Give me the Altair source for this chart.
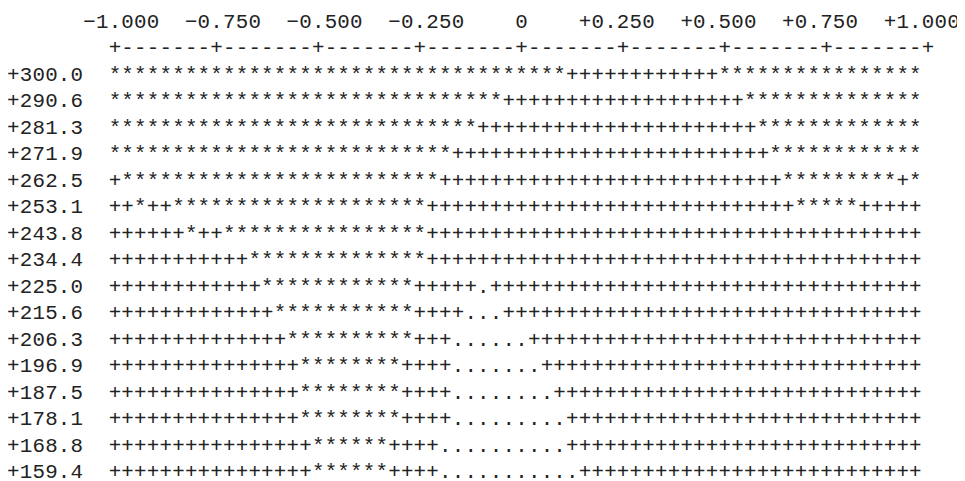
import altair as alt
import pandas as pd

# ---- data -------------------------------------------------------------
x_labels = ["−1.000", "−0.750", "−0.500", "−0.250", "0",
            "+0.250", "+0.500", "+0.750", "+1.000"]

y_labels = ["+300.0", "+290.6", "+281.3", "+271.9", "+262.5", "+253.1",
            "+243.8", "+234.4", "+225.0", "+215.6", "+206.3", "+196.9",
            "+187.5", "+178.1", "+168.8", "+159.4"]

# each row: runs of (symbol, count) across the 64 x-cells, left to right
cell_runs = [
    [("*", 36), ("+", 12), ("*", 16)],                                   # 300.0
    [("*", 31), ("+", 19), ("*", 14)],                                   # 290.6
    [("*", 29), ("+", 22), ("*", 13)],                                   # 281.3
    [("*", 27), ("+", 25), ("*", 12)],                                   # 271.9
    [("+", 1), ("*", 25), ("+", 27), ("*", 9), ("+", 1), ("*", 1)],      # 262.5
    [("+", 2), ("*", 1), ("+", 2), ("*", 20), ("+", 29), ("*", 5), ("+", 5)],  # 253.1
    [("+", 6), ("*", 1), ("+", 2), ("*", 16), ("+", 39)],                # 243.8
    [("+", 11), ("*", 14), ("+", 39)],                                   # 234.4
    [("+", 12), ("*", 12), ("+", 5), (".", 1), ("+", 34)],               # 225.0
    [("+", 13), ("*", 11), ("+", 4), (".", 3), ("+", 33)],               # 215.6
    [("+", 14), ("*", 10), ("+", 3), (".", 6), ("+", 31)],               # 206.3
    [("+", 15), ("*", 8), ("+", 4), (".", 7), ("+", 30)],                # 196.9
    [("+", 15), ("*", 8), ("+", 4), (".", 8), ("+", 29)],                # 187.5
    [("+", 15), ("*", 8), ("+", 4), (".", 9), ("+", 28)],                # 178.1
    [("+", 16), ("*", 6), ("+", 4), (".", 10), ("+", 28)],               # 168.8
    [("+", 16), ("*", 6), ("+", 4), (".", 11), ("+", 27)],               # 159.4
]

# ---- build the character grid -----------------------------------------
N_CELLS = 64
DATA_COL0 = 8          # first text column of the plot area
TICK_EVERY = 8

records = []


def put(row, col0, text):
    for i, ch in enumerate(text):
        if ch != " ":
            records.append({"row": row, "col": col0 + i, "ch": ch})


for k, lab in enumerate(x_labels):
    tick = DATA_COL0 + TICK_EVERY * k
    if lab.startswith("−"):
        start = tick - 2
    elif lab.startswith("+"):
        start = tick - 3
    else:
        start = tick
    put(0, start, lab)

axis_line = "".join("+" if j % TICK_EVERY == 0 else "-" for j in range(N_CELLS + 1))
put(1, DATA_COL0, axis_line)

for i, (lab, runs) in enumerate(zip(y_labels, cell_runs)):
    row_text = "".join(sym * n for sym, n in runs)
    assert len(row_text) == N_CELLS, (lab, len(row_text))
    put(2 + i, 0, lab)
    put(2 + i, DATA_COL0, row_text)

df = pd.DataFrame(records)

chart = (
    alt.Chart(df)
    .mark_text(font="Liberation Mono", fontSize=21, color="#222",
               align="center", baseline="middle")
    .encode(
        x=alt.X("col:Q", axis=None,
                scale=alt.Scale(domain=[-0.4141, 74.279], nice=False, zero=False)),
        y=alt.Y("row:Q", axis=None,
                scale=alt.Scale(domain=[-0.4439, 17.258], nice=False, zero=False,
                                reverse=True)),
        text="ch:N",
    )
    .properties(width=957, height=473, padding=0, autosize="none")
    .configure_view(stroke=None)
)

chart.save("out.html", embed_options={"renderer": "svg", "actions": False})
